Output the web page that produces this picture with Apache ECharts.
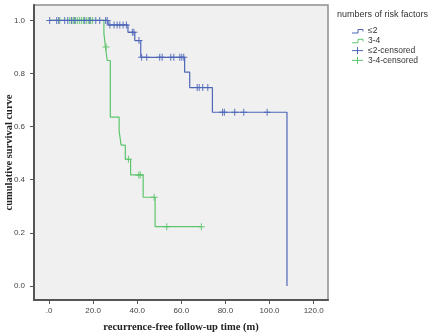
<!DOCTYPE html>
<html>
<head>
<meta charset="utf-8">
<script src="https://cdn.jsdelivr.net/npm/echarts/dist/echarts.min.js"></script>
<style>
  html, body { margin: 0; padding: 0; background: #fff; }
  #chart { width: 434px; height: 334px; }
</style>
</head>
<body>
<div id="chart"></div>
<script>
// Kaplan-Meier estimates: step times (months) and survival after each step
const lowTimes = [0, 26.8, 35.8, 38.9, 41.6, 61.5, 63.8, 74.1, 107.9];
const lowSurv = [1.0, 0.983, 0.955, 0.924, 0.861, 0.805, 0.747, 0.654, 0.0];
const lowCensored = [0.3, 3.5, 4.4, 7.1, 8.5, 10.3, 11.7, 16.2, 18.5, 21.2, 23.0, 25.7, 26.4,
  27.6, 29.5, 30.9, 32.1, 33.6, 35.1, 37.8, 38.5, 40.8,
  42.0, 44.3, 50.2, 51.3, 55.2, 56.6, 59.3, 60.2, 61.1,
  67.2, 68.1, 69.7, 72.0, 78.7, 79.5, 84.2, 88.3, 98.9];

const highTimes = [0, 24.9, 25.6, 26.4, 27.8, 31.8, 32.7, 34.6, 37.0, 42.7, 48.1, 69.1];
const highSurv = [1.0, 0.95, 0.90, 0.849, 0.636, 0.583, 0.530, 0.477, 0.418, 0.334, 0.223, 0.223];
const highCensored = [4.9, 9.4, 10.3, 11.2, 12.1, 13.0, 13.9, 14.8, 15.7, 17.1, 18.0, 18.9, 19.8,
  25.9, 36.0, 40.7, 41.4, 47.7, 53.4, 69.1];

const groupNames = ['≤2', '3-4', '≤2-censored', '3-4-censored'];
const legendTitle = 'numbers of risk factors';
const xTicks = [0, 20, 40, 60, 80, 100, 120];
const yTicks = [0, 0.2, 0.4, 0.6, 0.8, 1.0];

const blue = '#4d66b8';
const green = '#5cc56c';
const groupColors = [blue, green, blue, green];

function pairs(xs, ys) { return xs.map((x, i) => [x, ys[i]]); }
// survival level of the step curve at time t
function levelAt(times, surv, t) {
  let v = surv[0];
  for (let i = 0; i < times.length; i++) { if (times[i] <= t) v = surv[i]; }
  return v;
}
function marks(cens, times, surv) { return cens.map(t => [t, levelAt(times, surv, t)]); }

const crossPath = 'path://M0,3H7V4H0Z M3,0H4V7H3Z';
const sans = 'Liberation Sans, Arial, sans-serif';
const serif = 'Liberation Serif, Times New Roman, serif';

// legend drawn as graphic: step glyphs for curves, crosses for censored marks
const legX = 352, legY0 = 31, legStep = 9.8;
const legendItems = [];
groupNames.forEach((name, i) => {
  const cy = legY0 + i * legStep;
  const c = groupColors[i];
  if (i < 2) {
    legendItems.push({
      type: 'polyline', silent: true,
      shape: { points: [[legX, cy + 2], [legX + 6, cy + 2], [legX + 6, cy - 1.5], [legX + 11, cy - 1.5], [legX + 11, cy + 0.5]] },
      style: { stroke: c, lineWidth: 1, fill: null }
    });
  } else {
    legendItems.push({ type: 'line', silent: true, shape: { x1: legX, y1: cy, x2: legX + 11, y2: cy }, style: { stroke: c, lineWidth: 1 } });
    legendItems.push({ type: 'line', silent: true, shape: { x1: legX + 5.5, y1: cy - 3.5, x2: legX + 5.5, y2: cy + 3.5 }, style: { stroke: c, lineWidth: 1 } });
  }
  legendItems.push({
    type: 'text', silent: true, x: 368, y: cy,
    style: { text: name, fill: '#333', font: '8.5px ' + sans, verticalAlign: 'middle', align: 'left' }
  });
});
legendItems.push({
  type: 'text', silent: true, x: 337, y: 15,
  style: { text: legendTitle, fill: '#333', font: '9px ' + sans, verticalAlign: 'middle', align: 'left' }
});

const chart = echarts.init(document.getElementById('chart'), null, { renderer: 'canvas' });

chart.setOption({
  animation: false,
  backgroundColor: '#ffffff',
  graphic: legendItems,
  grid: {
    left: 34, right: 106, top: 5, bottom: 34,
    containLabel: false, outerBoundsMode: 'none',
    show: true, backgroundColor: '#f0f0f0', borderColor: '#8f8f8f', borderWidth: 1.5
  },
  xAxis: {
    type: 'value', min: -6.8, max: 126.5,
    name: 'recurrence-free follow-up time (m)',
    nameLocation: 'middle', nameGap: 22, nameMoveOverlap: false,
    nameTextStyle: { fontFamily: serif, fontSize: 10.5, fontWeight: 'bold', color: '#222' },
    axisLine: { show: true, onZero: false, lineStyle: { color: '#555', width: 2 } },
    axisTick: { show: true, length: 4, customValues: xTicks, lineStyle: { color: '#555' } },
    axisLabel: {
      customValues: xTicks, margin: 7, fontFamily: sans, fontSize: 8, color: '#444',
      formatter: v => (v === 0 ? '.0' : v.toFixed(1))
    },
    splitLine: { show: false }
  },
  yAxis: {
    type: 'value', min: -0.053, max: 1.058,
    name: 'cumulative survival curve',
    nameLocation: 'middle', nameGap: 19, nameRotate: 90, nameMoveOverlap: false,
    nameTextStyle: { fontFamily: serif, fontSize: 10.5, fontWeight: 'bold', color: '#222' },
    axisLine: { show: true, onZero: false, lineStyle: { color: '#555', width: 2 } },
    axisTick: { show: true, length: 4, customValues: yTicks, lineStyle: { color: '#555' } },
    axisLabel: {
      customValues: yTicks, margin: 9, fontFamily: sans, fontSize: 8, color: '#444',
      formatter: v => v.toFixed(1)
    },
    splitLine: { show: false }
  },
  series: [
    {
      name: groupNames[1], type: 'line', step: 'end', showSymbol: false, silent: true,
      data: pairs(highTimes, highSurv),
      lineStyle: { color: green, width: 1.2 }, itemStyle: { color: green }
    },
    {
      name: groupNames[0], type: 'line', step: 'end', showSymbol: false, silent: true,
      data: pairs(lowTimes, lowSurv),
      lineStyle: { color: blue, width: 1.2 }, itemStyle: { color: blue }
    },
    {
      name: groupNames[3], type: 'scatter', silent: true,
      symbol: crossPath, symbolSize: 7,
      data: marks(highCensored, highTimes, highSurv),
      itemStyle: { color: green, opacity: 0.9 }
    },
    {
      name: groupNames[2], type: 'scatter', silent: true,
      symbol: crossPath, symbolSize: 7,
      data: marks(lowCensored, lowTimes, lowSurv),
      itemStyle: { color: blue, opacity: 0.9 }
    }
  ]
});
</script>
</body>
</html>
